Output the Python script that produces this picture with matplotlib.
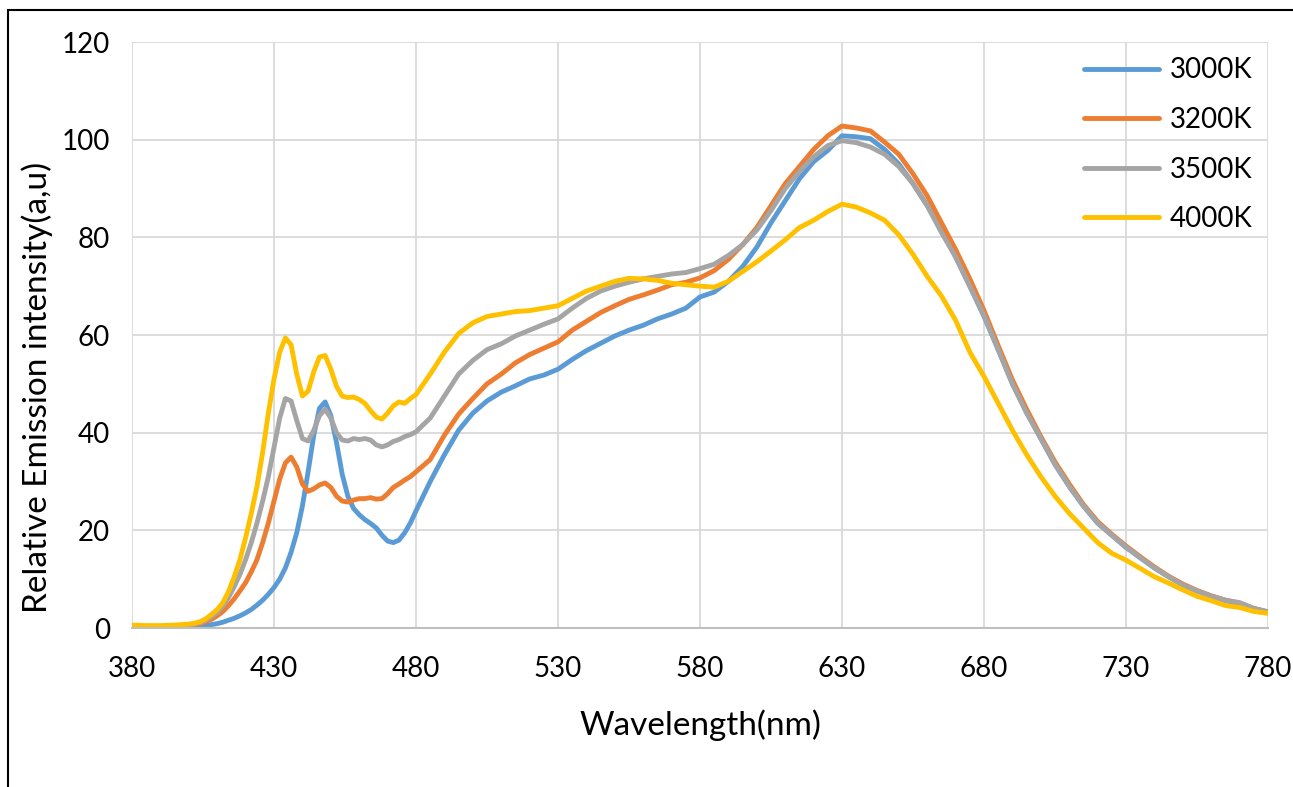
import numpy as np
import matplotlib
matplotlib.use("Agg")
import matplotlib.pyplot as plt
from matplotlib.patches import Rectangle

# wavelength grid (finer where the blue peaks are)
wl = np.concatenate([np.arange(380, 401, 5), np.arange(402, 481, 2), np.arange(485, 781, 5)])

k3000 = [0.2, 0.2, 0.2, 0.2, 0.3,
         0.3, 0.4, 0.5, 0.7, 0.9, 1.2, 1.6, 2.0, 2.5, 3.1, 3.8, 4.7, 5.7, 6.9, 8.3, 10, 12.3, 15.5, 19.5, 25,
         32, 39.5, 45, 46.3, 43.5, 38, 31.5, 27, 24.5, 23.2, 22.2, 21.4, 20.5, 19, 17.8, 17.5, 18, 19.5, 21.5, 24,
         30, 35.5, 40.5, 44, 46.5, 48.3, 49.6, 51, 51.8, 53, 55, 56.8, 58.3, 59.8, 61, 62, 63.3, 64.3, 65.5, 67.8,
         68.8, 71, 74, 78, 83, 87.5, 92, 95.5, 97.8, 100.8, 100.6, 100.2, 98, 95, 91, 86.5, 81.5, 76, 70, 63.8,
         57, 50, 44.2, 38.8, 33.5, 29, 25, 21.5, 19, 16.5, 14.4, 12.3, 10.5, 8.8, 7.6, 6.5, 5.6, 5, 4, 3.3]

k3200 = [0.3, 0.3, 0.3, 0.3, 0.5,
         0.7, 0.9, 1.3, 1.8, 2.5, 3.4, 4.6, 6, 7.6, 9.3, 11.5, 14, 17.5, 21.5, 26, 30.5, 33.8, 35, 33, 29.5,
         28, 28.5, 29.3, 29.7, 28.8, 27, 26, 25.8, 26.2, 26.5, 26.5, 26.7, 26.4, 26.5, 27.5, 28.8, 29.5, 30.3, 31, 32,
         34.5, 39.5, 43.8, 47, 50, 52, 54.3, 56, 57.3, 58.6, 61, 62.8, 64.6, 66, 67.3, 68.2, 69.2, 70.3, 70.8, 71.7,
         73.2, 75.5, 78.5, 82, 86.5, 91, 94.5, 98, 100.8, 102.8, 102.4, 101.8, 99.5, 97, 93, 88.5, 83, 77.5, 71.5, 65,
         57.8, 50.8, 44.8, 39.2, 34, 29.5, 25.3, 21.8, 19.2, 16.8, 14.6, 12.5, 10.6, 9, 7.7, 6.6, 5.7, 5.1, 4, 3.3]

k3500 = [0.3, 0.3, 0.3, 0.4, 0.6,
         0.8, 1.1, 1.6, 2.3, 3.2, 4.5, 6.3, 8.5, 11, 14, 17.5, 21.5, 26, 31, 37, 43, 47, 46.5, 42.5, 38.8,
         38.3, 40.5, 43.5, 44.8, 43, 40, 38.5, 38.3, 38.8, 38.6, 38.8, 38.5, 37.5, 37.1, 37.5, 38.2, 38.6, 39.2, 39.6, 40.2,
         43, 47.5, 52, 54.8, 57, 58.2, 59.8, 61, 62.2, 63.3, 65.5, 67.5, 69, 70, 70.8, 71.5, 72, 72.5, 72.8, 73.6,
         74.5, 76.3, 78.5, 81.5, 85.5, 90, 93.5, 96.5, 98.8, 99.8, 99.4, 98.5, 97, 94.5, 91, 86.5, 81, 76, 70, 64,
         57, 50, 44, 38.8, 33.5, 29, 25, 21.5, 19, 16.6, 14.4, 12.3, 10.5, 8.8, 7.6, 6.5, 5.7, 5.2, 4, 3.3]

k4000 = [0.6, 0.5, 0.5, 0.6, 0.8,
         1.0, 1.3, 1.9, 2.8, 3.8, 5.2, 7.5, 10.5, 14, 18.5, 23.5, 29, 36, 44, 51, 56.5, 59.4, 58, 52, 47.5,
         48.5, 52.5, 55.5, 55.8, 53, 49.5, 47.5, 47.2, 47.3, 46.8, 46, 44.5, 43.2, 42.8, 44, 45.5, 46.3, 46, 47, 47.8,
         52, 56.5, 60.3, 62.5, 63.8, 64.3, 64.8, 65, 65.5, 66, 67.5, 69, 70, 71, 71.6, 71.5, 71.2, 70.6, 70.3, 70,
         69.8, 71, 73, 75, 77.2, 79.5, 82, 83.5, 85.3, 86.8, 86.2, 85, 83.5, 80.5, 76.5, 72, 68, 63, 56.5, 51.5,
         46, 40.5, 35.5, 31, 27, 23.5, 20.5, 17.5, 15.3, 13.9, 12.2, 10.5, 9.2, 7.8, 6.5, 5.6, 4.6, 4.2, 3.4, 3.0]

labels = ["3000K", "3200K", "3500K", "4000K"]
colors = ["#5B9BD5", "#ED7D31", "#A5A5A5", "#FFC000"]
series = [k3000, k3200, k3500, k4000]

plt.rcParams['font.family'] = ['Lato', 'DejaVu Sans']

fig = plt.figure(figsize=(12.93, 7.87), dpi=100)
ax = fig.add_axes([0.1021, 0.2020, 0.8786, 0.7446])

for y, lab, c in zip(series, labels, colors):
    ax.plot(wl, y, color=c, lw=3.5, label=lab, solid_capstyle='round', solid_joinstyle='round')

ax.set_xlim(380, 780)
ax.set_ylim(0, 120)
ax.set_xticks(np.arange(380, 781, 50))
ax.set_yticks(np.arange(0, 121, 20))
ax.grid(True, color="#D9D9D9", lw=1.3)
ax.set_axisbelow(True)
for s in ['top', 'right', 'left']:
    ax.spines[s].set_visible(False)
ax.spines['bottom'].set_color("#BFBFBF")
ax.spines['bottom'].set_linewidth(1.5)
ax.tick_params(length=0, labelsize=20, colors="#000000")
ax.tick_params(axis='x', pad=20)
ax.tick_params(axis='y', pad=16)

ax.set_xlabel("Wavelength(nm)", fontsize=24, labelpad=20)
ax.set_ylabel("Relative Emission intensity(a,u)", fontsize=24)
ax.yaxis.set_label_coords(-0.0695, 0.41)

ax.legend(loc='upper right', frameon=False, fontsize=20, handlelength=2.7,
          labelspacing=0.85, borderaxespad=0.15, handletextpad=0.4)

# border of the original picture (only top and left edges show)
fig.patches.append(Rectangle((8 / 1293, -0.1), 1.2, 1.1 - 10 / 787, transform=fig.transFigure,
                             fill=False, edgecolor="black", lw=1.5))

fig.savefig("out.png", dpi=100)
